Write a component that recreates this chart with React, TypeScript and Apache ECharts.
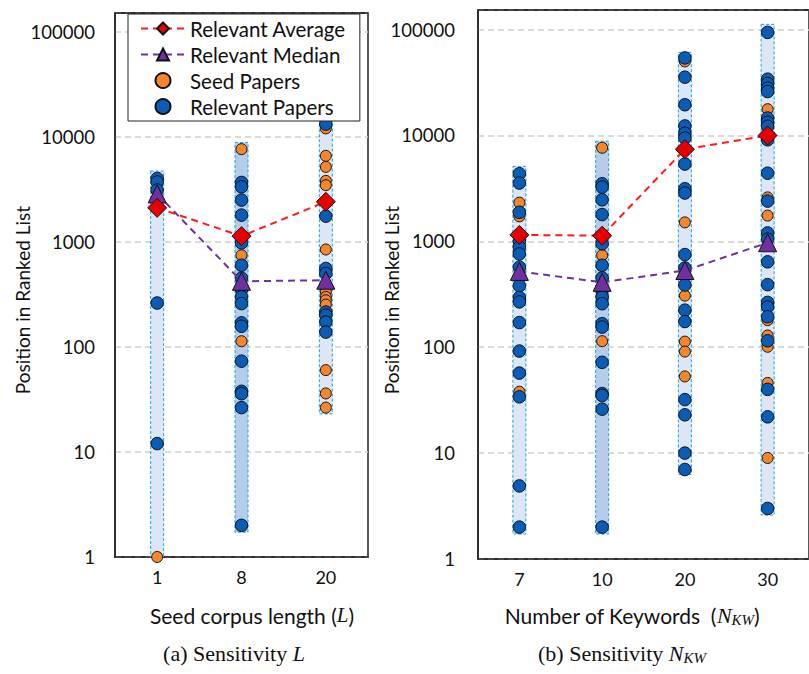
import React, { useEffect, useRef } from 'react';
import * as echarts from 'echarts';

// ---------- data ----------
const leftCategories = ['1', '8', '20'];
const rightCategories = ['7', '10', '20', '30'];

const leftRelevant: number[][] = [
  [4000, 3700, 3100, 261, 12],
  [3660, 3330, 2490, 1790, 975, 597, 450, 351, 298, 258, 169, 157, 73, 37.7, 35.8, 26.4, 2],
  [13150, 1750, 556, 498, 214, 200, 172, 138],
];
const leftSeed: number[][] = [
  [1],
  [7600, 743, 113],
  [11970, 6560, 5150, 3795, 3450, 843, 363, 333, 298, 277, 252, 60, 36, 26.4],
];
const leftAverage = [2100, 1130, 2400];
const leftMedian = [2850, 420, 430];
const leftRangeLow = [1, 1.72, 23];
const leftRangeHigh = [4700, 8800, 15500];
const leftDefaultIndex = 1;

const rightRelevant: number[][] = [
  [4350, 3550, 1880, 1000, 880, 760, 570, 380, 295, 268, 171, 92, 57, 34, 4.9, 2],
  [3500, 3250, 2470, 1790, 950, 594, 451, 345, 298, 258, 167, 155, 72, 36.5, 35, 26, 2],
  [54000, 35500, 19500, 12300, 10500, 9450, 5370, 3140, 2860, 750, 560, 387, 224, 175, 32, 23, 10, 7],
  [94000, 34000, 31000, 28000, 26000, 14600, 13300, 12200, 9100, 4400, 2400, 1200, 1050, 640, 390, 265, 240, 194, 115, 40, 22, 3],
];
const rightSeed: number[][] = [
  [2320, 1720, 445, 38],
  [7650, 738, 114],
  [50000, 1510, 307, 113, 91, 53],
  [17700, 2600, 1750, 180, 129, 101, 46, 9],
];
const rightAverage = [1150, 1130, 7400, 10000];
const rightMedian = [520, 410, 530, 970];
const rightRangeLow = [1.72, 1.72, 6.3, 2.6];
const rightRangeHigh = [5100, 8830, 61000, 112000];
const rightDefaultIndex = 1;

// ---------- styles ----------
const FONT = 'Lato';
const BLUE = '#0b5cb6';
const ORANGE = '#f5862c';
const RED = '#e60000';
const PURPLE = '#7030a0';

const toPoints = (groups: number[][]) => groups.flatMap((g, i) => g.map((v) => [i, v]));
const toRanges = (lo: number[], hi: number[]) => lo.map((l, i) => [i, l, hi[i]]);

const rangeRender = (highlight: number) => (params: any, api: any) => {
  const i = api.value(0);
  const lo = api.coord([i, api.value(1)]);
  const hi = api.coord([i, api.value(2)]);
  const w = 13;
  return {
    type: 'rect',
    shape: { x: lo[0] - w / 2, y: hi[1], width: w, height: lo[1] - hi[1] },
    style: {
      fill: i === highlight ? '#b5cde9' : '#dde6f4',
      stroke: '#17a6ea',
      lineWidth: 1,
      lineDash: [3, 2],
    },
  };
};

function panelSeries(
  idx: number,
  relevant: number[][],
  seed: number[][],
  avg: number[],
  med: number[],
  lo: number[],
  hi: number[],
  highlight: number
) {
  return [
    {
      type: 'custom',
      name: 'range' + idx,
      xAxisIndex: idx,
      yAxisIndex: idx,
      renderItem: rangeRender(highlight),
      encode: { x: 0, y: [1, 2] },
      data: toRanges(lo, hi),
      z: 1,
      silent: true,
    },
    {
      type: 'scatter',
      name: 'Seed Papers',
      xAxisIndex: idx,
      yAxisIndex: idx,
      data: toPoints(seed),
      symbol: 'circle',
      symbolSize: 11,
      clip: false,
      itemStyle: { color: ORANGE, borderColor: '#111', borderWidth: 1, opacity: 1 },
      z: 2,
    },
    {
      type: 'scatter',
      name: 'Relevant Papers',
      xAxisIndex: idx,
      yAxisIndex: idx,
      data: toPoints(relevant),
      symbol: 'circle',
      symbolSize: 12.5,
      clip: false,
      itemStyle: { color: BLUE, borderColor: '#111', borderWidth: 1, opacity: 1 },
      z: 3,
    },
    {
      type: 'line',
      name: 'Relevant Median',
      xAxisIndex: idx,
      yAxisIndex: idx,
      data: med,
      symbol: 'triangle',
      symbolSize: 18,
      lineStyle: { color: PURPLE, width: 2, type: [7, 5] },
      itemStyle: { color: PURPLE, borderColor: '#111', borderWidth: 1 },
      z: 4,
    },
    {
      type: 'line',
      name: 'Relevant Average',
      xAxisIndex: idx,
      yAxisIndex: idx,
      data: avg,
      symbol: 'diamond',
      symbolSize: 19,
      lineStyle: { color: '#ff1a1a', width: 2, type: [7, 5] },
      itemStyle: { color: RED, borderColor: '#111', borderWidth: 1 },
      z: 5,
    },
  ];
}

function yAxis(idx: number, max: number, margin: number) {
  return {
    type: 'log',
    logBase: 10,
    gridIndex: idx,
    min: 1,
    max,
    axisLine: { show: true, lineStyle: { color: '#222', width: 1.5 } },
    axisTick: { show: false },
    axisLabel: {
      color: '#111',
      fontFamily: FONT,
      fontSize: 18.5,
      margin,
      showMaxLabel: false,
      formatter: (v: number) => {
        const l = Math.log10(v);
        return Math.abs(l - Math.round(l)) < 1e-6 ? String(Math.round(v)) : '';
      },
    },
    splitLine: { show: true, lineStyle: { color: '#cfcfcf', type: [6, 4], width: 1.5 } },
  };
}

function xAxis(idx: number, data: string[]) {
  return {
    type: 'category',
    gridIndex: idx,
    data,
    boundaryGap: true,
    axisLine: { show: true, lineStyle: { color: '#222', width: 1.5 } },
    axisTick: { show: false },
    axisLabel: { color: '#111', fontFamily: FONT, fontSize: 18, margin: 11 },
    splitLine: { show: false },
  };
}

const titleStyle = { font: `19px ${FONT}`, fill: '#111', align: 'center', verticalAlign: 'middle' };

export default function App() {
  const ref = useRef<HTMLDivElement>(null);
  useEffect(() => {
    const chart = echarts.init(ref.current!, null, { renderer: 'svg' });
    const option: any = {
      animation: false,
      backgroundColor: '#fff',
      grid: [
        { left: 115, top: 13, width: 253, height: 544, show: true, borderColor: '#222', borderWidth: 1.5, backgroundColor: 'transparent' },
        { left: 478, top: 10, width: 336, height: 549, show: true, borderColor: '#222', borderWidth: 1.5, backgroundColor: 'transparent' },
      ],
      xAxis: [xAxis(0, leftCategories), xAxis(1, rightCategories)],
      yAxis: [yAxis(0, 150000, 20), yAxis(1, 153000, 23)],
      legend: {
        data: ['Relevant Average', 'Relevant Median', 'Seed Papers', 'Relevant Papers'],
        orient: 'vertical',
        left: 128,
        top: 14,
        itemWidth: 44,
        itemHeight: 15,
        itemGap: 5,
        padding: [4, 14, 4, 12],
        backgroundColor: '#fff',
        borderColor: '#222',
        borderWidth: 1,
        textStyle: { color: '#111', fontFamily: FONT, fontSize: 20.5, lineHeight: 20 },
        selectedMode: false,
        z: 10,
      },
      series: [
        ...panelSeries(0, leftRelevant, leftSeed, leftAverage, leftMedian, leftRangeLow, leftRangeHigh, leftDefaultIndex),
        ...panelSeries(1, rightRelevant, rightSeed, rightAverage, rightMedian, rightRangeLow, rightRangeHigh, rightDefaultIndex),
      ],
      graphic: [
        { type: 'line', z: 1, shape: { x1: 115, y1: 13, x2: 368, y2: 13 }, style: { stroke: '#222', lineWidth: 1.5 } },
        { type: 'line', z: 1, shape: { x1: 478, y1: 10, x2: 814, y2: 10 }, style: { stroke: '#222', lineWidth: 1.5 } },
        { type: 'text', x: 22, y: 300, rotation: Math.PI / 2, style: { ...titleStyle, text: 'Position in Ranked List' } },
        { type: 'text', x: 391, y: 300, rotation: Math.PI / 2, style: { ...titleStyle, text: 'Position in Ranked List' } },
        {
          type: 'text',
          x: 252,
          y: 615,
          style: {
            ...titleStyle,
            text: '{a|Seed corpus length (}{m|L}{a|)}',
            rich: {
              a: { font: `21px ${FONT}`, fill: '#111', lineHeight: 24 },
              m: { font: 'italic 21px "Liberation Serif"', fill: '#111', lineHeight: 24 },
            },
          },
        },
        {
          type: 'text',
          x: 632,
          y: 615,
          style: {
            ...titleStyle,
            text: '{a|Number of Keywords  (}{m|N}{s|KW}{a|)}',
            rich: {
              a: { font: `21px ${FONT}`, fill: '#111', lineHeight: 24 },
              m: { font: 'italic 22px "Liberation Serif"', fill: '#111', lineHeight: 24 },
              s: { font: 'italic 15px "Liberation Serif"', fill: '#111', lineHeight: 24, verticalAlign: 'bottom', padding: [7, 0, 0, 0] },
            },
          },
        },
        {
          type: 'text',
          x: 234,
          y: 653,
          style: {
            ...titleStyle,
            text: '{a|(a) Sensitivity }{m|L}',
            rich: {
              a: { font: '22px "Liberation Serif"', fill: '#111', lineHeight: 24 },
              m: { font: 'italic 22px "Liberation Serif"', fill: '#111', lineHeight: 24 },
            },
          },
        },
        {
          type: 'text',
          x: 622,
          y: 653,
          style: {
            ...titleStyle,
            text: '{a|(b) Sensitivity }{m|N}{s|KW}',
            rich: {
              a: { font: '22px "Liberation Serif"', fill: '#111', lineHeight: 24 },
              m: { font: 'italic 22px "Liberation Serif"', fill: '#111', lineHeight: 24 },
              s: { font: 'italic 15px "Liberation Serif"', fill: '#111', lineHeight: 24, verticalAlign: 'bottom', padding: [7, 0, 0, 0] },
            },
          },
        },
      ],
    };
    chart.setOption(option);
    return () => chart.dispose();
  }, []);
  return <div ref={ref} style={{ position: 'fixed', left: 0, top: 0, width: 809, height: 674 }} />;
}
